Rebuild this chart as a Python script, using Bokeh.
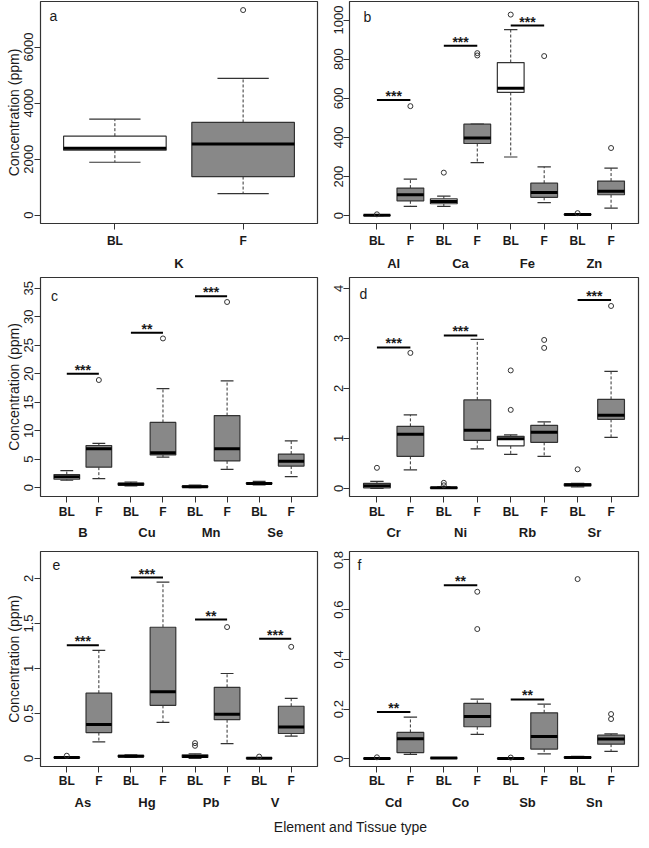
from bokeh.plotting import figure
from bokeh.models import LinearAxis, FixedTicker, Range1d, Div
from bokeh.layouts import column, row
from bokeh.embed import file_html
from bokeh.resources import INLINE
from bokeh.core.properties import value

# ---------------- data ----------------
TICK_LABELS = ["BL", "F"]
Y_TITLE = "Concentration (ppm)"
X_TITLE = "Element and Tissue type"

# stats per element: [lower whisker, Q1, median, Q3, upper whisker]
a_elements = ["K"]
a_bl = [[1890, 2320, 2390, 2820, 3430]]
a_f = [[770, 1380, 2540, 3310, 4880]]
a_bl_out = [[]]
a_f_out = [[7320]]
a_sig_y = [None]
a_sig_lab = [""]
a_yticks = [0, 2000, 4000, 6000]
a_yrange = (-295, 7625)

b_elements = ["Al", "Ca", "Fe", "Zn"]
b_bl = [[0, 1, 2, 3, 4], [48, 61, 72, 86, 100], [300, 630, 652, 783, 951], [2, 4, 6, 8, 10]]
b_f = [[48, 76, 107, 141, 187], [271, 369, 397, 468, 468], [67, 94, 118, 166, 250], [39, 107, 125, 177, 243]]
b_bl_out = [[7], [220], [1028], [13]]
b_f_out = [[560], [819, 831], [816], [346]]
b_sig_y = [591, 869, 972, None]
b_sig_lab = ["***", "***", "***", ""]
b_yticks = [0, 200, 400, 600, 800, 1000]
b_yrange = (-40, 1095)

c_elements = ["B", "Cu", "Mn", "Se"]
c_bl = [[1.3, 1.5, 1.9, 2.3, 3.0], [0.3, 0.45, 0.6, 0.8, 1.0], [0.0, 0.08, 0.15, 0.3, 0.45], [0.5, 0.65, 0.75, 0.85, 1.1]]
c_f = [[1.6, 3.6, 6.85, 7.4, 7.77], [5.35, 5.75, 6.15, 11.45, 17.4], [3.2, 4.7, 6.85, 12.66, 18.75], [1.95, 3.8, 4.65, 5.9, 8.2]]
c_bl_out = [[], [], [], []]
c_f_out = [[18.9], [26.2], [32.6], []]
c_sig_y = [20.0, 27.2, 33.6, None]
c_sig_lab = ["***", "**", "***", ""]
c_yticks = [0, 5, 10, 15, 20, 25, 30, 35]
c_yrange = (-1.55, 36.9)

d_elements = ["Cr", "Ni", "Rb", "Sr"]
d_bl = [[0.0, 0.01, 0.05, 0.10, 0.14], [0.0, 0.0, 0.01, 0.02, 0.03], [0.68, 0.85, 0.99, 1.04, 1.07], [0.03, 0.05, 0.07, 0.09, 0.10]]
d_f = [[0.37, 0.64, 1.08, 1.24, 1.47], [0.79, 0.96, 1.16, 1.77, 2.98], [0.64, 0.92, 1.12, 1.26, 1.33], [1.02, 1.38, 1.46, 1.78, 2.34]]
d_bl_out = [[0.41], [0.06, 0.11], [1.57, 2.36], [0.38]]
d_f_out = [[2.71], [], [2.81, 2.97], [3.65]]
d_sig_y = [2.82, 3.06, None, 3.77]
d_sig_lab = ["***", "***", "", "***"]
d_yticks = [0, 1, 2, 3, 4]
d_yrange = (-0.164, 4.22)

e_elements = ["As", "Hg", "Pb", "V"]
e_bl = [[0.0, 0.005, 0.01, 0.015, 0.02], [0.01, 0.018, 0.025, 0.033, 0.04], [0.0, 0.01, 0.02, 0.04, 0.05], [0.0, 0.0, 0.003, 0.006, 0.01]]
e_f = [[0.183, 0.287, 0.377, 0.725, 1.20], [0.40, 0.59, 0.74, 1.458, 1.96], [0.165, 0.43, 0.49, 0.79, 0.944], [0.248, 0.277, 0.35, 0.58, 0.668]]
e_bl_out = [[0.03], [], [0.14, 0.17], [0.02]]
e_f_out = [[], [], [1.46], [1.24]]
e_sig_y = [1.257, 2.01, 1.544, 1.33]
e_sig_lab = ["***", "***", "**", "***"]
e_yticks = [0, 0.5, 1.0, 1.5, 2.0]
e_yrange = (-0.09, 2.30)

f_elements = ["Cd", "Co", "Sb", "Sn"]
f_bl = [[0, 0.0005, 0.001, 0.0015, 0.002], [0.002, 0.0025, 0.003, 0.0035, 0.004], [0, 0.0005, 0.001, 0.0015, 0.002], [0.002, 0.003, 0.005, 0.008, 0.01]]
f_f = [[0.018, 0.025, 0.081, 0.106, 0.168], [0.098, 0.129, 0.17, 0.223, 0.24], [0.02, 0.039, 0.09, 0.185, 0.22], [0.03, 0.059, 0.08, 0.095, 0.10]]
f_bl_out = [[0.006], [], [0.005], [0.723]]
f_f_out = [[], [0.522, 0.672], [], [0.16, 0.18]]
f_sig_y = [0.188, 0.698, 0.239, None]
f_sig_lab = ["**", "**", "**", ""]
f_yticks = [0, 0.2, 0.4, 0.6, 0.8]
f_yrange = (-0.031, 0.834)

# ---------------- styling / layout ----------------
FONT = "Liberation Sans"
LINE = "#333333"
TEXT = "#1a1a1a"
FILL_BL = "white"
FILL_F = "#888888"

W_COL = [326, 315]
COL_BORDERS = [(40, 9), (23, 3)]
ROW_H = [273, 274, 265]
BORDER_TOP = [1, 4, 4]
BORDER_BOTTOM = [47, 51, 45]
XLAB_STANDOFF = [4, 2, 1]
ELEM_STANDOFF = [5, 3, 4]
TAG_OFFSET = {"a": (13, 15), "b": (18, 16), "c": (14, 18), "d": (14, 16), "e": (16, 14), "f": (10, 14)}


def make_panel(tag, elements, bl, fm, bl_out, f_out, sig_y, sig_lab, yticks, yr, col, r):
    n = 2 * len(elements)
    pad = 0.04 * n
    xr = (0.5 - pad, n + 0.5 + pad)
    bleft, bright = COL_BORDERS[col]
    W, H = W_COL[col], ROW_H[r]
    p = figure(width=W, height=H, x_range=Range1d(*xr), y_range=Range1d(*yr),
               output_backend="svg", toolbar_location=None,
               x_axis_location=None, y_axis_location=None,
               min_border_left=bleft, min_border_right=bright,
               min_border_top=BORDER_TOP[r], min_border_bottom=BORDER_BOTTOM[r])
    p.grid.visible = False
    p.outline_line_color = LINE
    p.outline_line_width = 1.2

    # y axis
    yax = LinearAxis(ticker=FixedTicker(ticks=yticks))
    yax.major_label_orientation = "vertical"
    yax.major_tick_out = 6
    yax.major_tick_in = 0
    yax.minor_tick_out = 0
    yax.minor_tick_in = 0
    yax.axis_line_color = None
    yax.major_tick_line_color = LINE
    yax.major_label_text_font = FONT
    yax.major_label_text_font_size = "13px"
    yax.major_label_text_color = TEXT
    yax.major_label_standoff = 1 if col == 0 else 0
    if col == 0:
        yax.axis_label = Y_TITLE
        yax.axis_label_text_font = FONT
        yax.axis_label_text_font_size = "14px"
        yax.axis_label_text_font_style = "normal"
        yax.axis_label_text_color = TEXT
        yax.axis_label_standoff = 0
    p.add_layout(yax, "left")

    # x axis: BL / F
    xs = list(range(1, n + 1))
    overrides = {x: TICK_LABELS[(x - 1) % 2] for x in xs}
    xax = LinearAxis(ticker=FixedTicker(ticks=xs), major_label_overrides=overrides)
    xax.major_tick_out = 6
    xax.major_tick_in = 0
    xax.minor_tick_out = 0
    xax.axis_line_color = None
    xax.major_tick_line_color = LINE
    xax.major_label_text_font = FONT
    xax.major_label_text_font_size = "12px"
    xax.major_label_text_font_style = "bold"
    xax.major_label_text_color = TEXT
    xax.major_label_standoff = XLAB_STANDOFF[r]
    p.add_layout(xax, "below")

    # x axis: element names
    ex = [2 * i + 1.5 for i in range(len(elements))]
    eax = LinearAxis(ticker=FixedTicker(ticks=ex),
                     major_label_overrides={x: e for x, e in zip(ex, elements)})
    eax.major_tick_out = 0
    eax.major_tick_in = 0
    eax.minor_tick_out = 0
    eax.axis_line_color = None
    eax.major_tick_line_color = None
    eax.major_label_text_font = FONT
    eax.major_label_text_font_size = "13px"
    eax.major_label_text_font_style = "bold"
    eax.major_label_text_color = TEXT
    eax.major_label_standoff = ELEM_STANDOFF[r]
    p.add_layout(eax, "below")

    # boxes
    bx, lo, q1, md, q3, hi, fills = [], [], [], [], [], [], []
    for i in range(len(elements)):
        for k, (stats, fill) in enumerate(((bl[i], FILL_BL), (fm[i], FILL_F))):
            bx.append(2 * i + 1 + k)
            lo.append(stats[0]); q1.append(stats[1]); md.append(stats[2])
            q3.append(stats[3]); hi.append(stats[4]); fills.append(fill)
    hw, sw = 0.4, 0.2
    p.segment(x0=bx, y0=q3, x1=bx, y1=hi, line_color=LINE, line_width=1, line_dash="3 2")
    p.segment(x0=bx, y0=q1, x1=bx, y1=lo, line_color=LINE, line_width=1, line_dash="3 2")
    p.segment(x0=[x - sw for x in bx], y0=hi, x1=[x + sw for x in bx], y1=hi, line_color=LINE, line_width=1.2)
    p.segment(x0=[x - sw for x in bx], y0=lo, x1=[x + sw for x in bx], y1=lo, line_color=LINE, line_width=1.2)
    p.quad(left=[x - hw for x in bx], right=[x + hw for x in bx], bottom=q1, top=q3,
           fill_color=fills, line_color=LINE, line_width=1.2)
    p.segment(x0=[x - hw for x in bx], y0=md, x1=[x + hw for x in bx], y1=md,
              line_color="black", line_width=3)

    # outliers
    ox, oy = [], []
    for i in range(len(elements)):
        for v in bl_out[i]:
            ox.append(2 * i + 1); oy.append(v)
        for v in f_out[i]:
            ox.append(2 * i + 2); oy.append(v)
    if ox:
        p.scatter(x=ox, y=oy, marker="circle", size=5, fill_color=None, line_color=LINE, line_width=1)

    # significance bars
    sx0, sx1, sy, sl = [], [], [], []
    for i in range(len(elements)):
        if sig_y[i] is not None:
            sx0.append(2 * i + 1); sx1.append(2 * i + 2); sy.append(sig_y[i]); sl.append(sig_lab[i])
    if sy:
        p.segment(x0=sx0, y0=sy, x1=sx1, y1=sy, line_color="black", line_width=2)
        p.text(x=[(a + b) / 2 for a, b in zip(sx0, sx1)], y=sy, text=sl,
               text_align="center", text_baseline="alphabetic", y_offset=-4,
               text_font=value(FONT), text_font_size="14px", text_font_style="bold",
               text_color=TEXT)

    # panel tag
    fw = W - bleft - bright
    fh = H - BORDER_TOP[r] - BORDER_BOTTOM[r]
    dx, dy = TAG_OFFSET[tag]
    tx = xr[0] + dx * (xr[1] - xr[0]) / fw
    ty = yr[1] - dy * (yr[1] - yr[0]) / fh
    p.text(x=[tx], y=[ty], text=[tag], text_align="center", text_baseline="middle",
           text_font=value(FONT), text_font_size="14px", text_color=TEXT)
    return p


pa = make_panel("a", a_elements, a_bl, a_f, a_bl_out, a_f_out, a_sig_y, a_sig_lab, a_yticks, a_yrange, 0, 0)
pb = make_panel("b", b_elements, b_bl, b_f, b_bl_out, b_f_out, b_sig_y, b_sig_lab, b_yticks, b_yrange, 1, 0)
pc = make_panel("c", c_elements, c_bl, c_f, c_bl_out, c_f_out, c_sig_y, c_sig_lab, c_yticks, c_yrange, 0, 1)
pd_ = make_panel("d", d_elements, d_bl, d_f, d_bl_out, d_f_out, d_sig_y, d_sig_lab, d_yticks, d_yrange, 1, 1)
pe = make_panel("e", e_elements, e_bl, e_f, e_bl_out, e_f_out, e_sig_y, e_sig_lab, e_yticks, e_yrange, 0, 2)
pf = make_panel("f", f_elements, f_bl, f_f, f_bl_out, f_f_out, f_sig_y, f_sig_lab, f_yticks, f_yrange, 1, 2)

footer = Div(text=("<div style='width:641px;box-sizing:border-box;text-align:center;padding-left:50px;"
                   "font-family:\"Liberation Sans\";font-size:14px;color:#1a1a1a;line-height:20px'>"
                   + X_TITLE + "</div>"),
             width=641, height=20)

layout = column(row(pa, pb), row(pc, pd_), row(pe, pf), footer)

open("out.html", "w").write(file_html(layout, INLINE))
